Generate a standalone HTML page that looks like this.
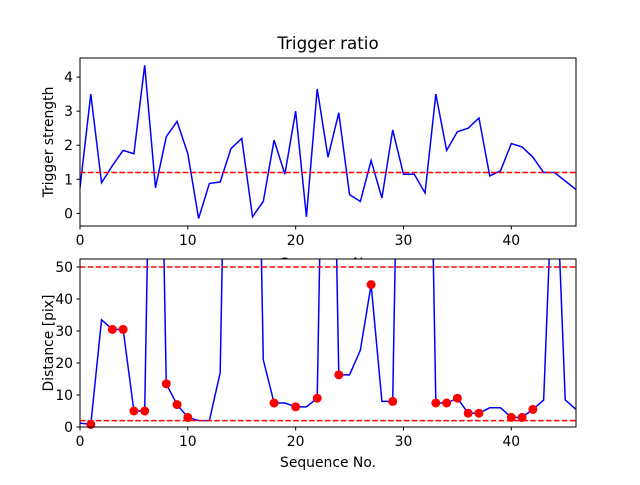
<!DOCTYPE html>
<html><head><meta charset="utf-8"><style>
body{margin:0;background:#fff}
svg{font-family:"DejaVu Sans","Liberation Sans",sans-serif}
</style></head><body>
<svg id="c" width="640" height="480" viewBox="0 0 640 480">
<rect width="640" height="480" fill="#fff"/>
</svg>
<script>
const seq = [...Array(47).keys()];
const triggerStrength = [0.75,3.5,0.9,1.4,1.85,1.75,4.35,0.75,2.25,2.7,1.75,-0.15,0.88,0.92,1.9,2.2,-0.1,0.35,2.15,1.15,3.0,-0.1,3.65,1.65,2.95,0.55,0.35,1.55,0.45,2.45,1.15,1.15,0.6,3.5,1.85,2.4,2.5,2.8,1.1,1.25,2.05,1.95,1.65,1.2,1.2,0.95,0.7];
const triggerThreshold = 1.2;
const distance = [1.2,0.8,33.5,30.5,30.5,5,5,200,13.5,7,3,2,2,17,200,200,200,21,7.5,7.5,6.3,6.3,9,200,16.3,16.3,24,44.5,8,8,200,200,200,7.5,7.5,9,4.3,4.3,6,6,3,3,5.5,8.4,95,8.5,5.5];
const markerIdx = [1,3,4,5,6,8,9,10,18,20,22,24,27,29,33,34,35,36,37,40,41,42];
const distThresholds = [50,2];
const topYTicks = [0,1,2,3,4];
const botYTicks = [0,10,20,30,40,50];
const xTicks = [0,10,20,30,40];

const NS="http://www.w3.org/2000/svg", svg=document.getElementById('c');
function el(t,a,p){const e=document.createElementNS(NS,t);for(const k in a)e.setAttribute(k,a[k]);(p||svg).appendChild(e);return e;}
const L=80,R=576,FS=13.9;
const sx=v=>L+(v-0)*(R-L)/46;
function axes(top,bot,ymin,ymax,name){
  const sy=v=>bot-(v-ymin)*(bot-top)/(ymax-ymin);
  const g=el('g',{});
  
  
  const cid='clip-'+name;
  const cp=el('clipPath',{id:cid},g); el('rect',{x:L,y:top,width:R-L,height:bot-top},cp);
  const plot=el('g',{'clip-path':`url(#${cid})`},g);
  return {g,plot,sy,top,bot};
}
function frame(a,yt,ylab){
  const ax=el('g',{},a.g);
  
  
  el('rect',{x:L,y:a.top,width:R-L,height:a.bot-a.top,fill:'none',stroke:'#000','stroke-width':1},ax);
  xTicks.forEach(t=>{const x=sx(t);el('line',{x1:x,x2:x,y1:a.bot,y2:a.bot+3.5,stroke:'#000'},ax);
    const tx=el('text',{x:x,y:a.bot+19,'text-anchor':'middle','font-size':FS},ax);tx.textContent=t;
    });
  yt.forEach(t=>{const y=a.sy(t);el('line',{x1:L-3.5,x2:L,y1:y,y2:y,stroke:'#000'},ax);
    const tx=el('text',{x:L-7,y:y+5,'text-anchor':'end','font-size':FS},ax);tx.textContent=t;
    });
  const yl=el('text',{x:0,y:0,'text-anchor':'middle','font-size':FS,transform:`translate(${L-27},${(a.top+a.bot)/2}) rotate(-90)`},ax);
  yl.textContent=ylab;
}
// top
const A=axes(58,226,-0.37,4.56,'trigger-ratio-axes');
const xl1=el('text',{x:328,y:268,'text-anchor':'middle','font-size':FS});xl1.textContent='Sequence No.';

let p=el('polyline',{points:seq.map(i=>sx(i)+','+A.sy(triggerStrength[i])).join(' '),fill:'none',stroke:'#0000ff','stroke-width':1.5},A.plot);

let h=el('line',{x1:L,x2:R,y1:A.sy(triggerThreshold),y2:A.sy(triggerThreshold),stroke:'#ff0000','stroke-width':1.5,'stroke-dasharray':'5.5,2.4'},A.plot);

frame(A,topYTicks,'Trigger strength');
const t=el('text',{x:328,y:49,'text-anchor':'middle','font-size':16.7});t.textContent='Trigger ratio';

// bottom
const B=axes(259,427,0,52.5,'distance-axes');
el('rect',{x:L,y:259,width:R-L,height:168,fill:'#fff'},B.plot);
p=el('polyline',{points:seq.map(i=>sx(i)+','+B.sy(distance[i])).join(' '),fill:'none',stroke:'#0000ff','stroke-width':1.5},B.plot);

distThresholds.forEach(v=>{const l=el('line',{x1:L,x2:R,y1:B.sy(v),y2:B.sy(v),stroke:'#ff0000','stroke-width':1.5,'stroke-dasharray':'5.5,2.4'},B.plot);
  });
markerIdx.forEach(i=>{const c=el('circle',{cx:sx(i),cy:B.sy(distance[i]),r:4.5,fill:'#ff0000'},B.g);
  });
frame(B,botYTicks,'Distance [pix]');
const xl2=el('text',{x:328,y:467,'text-anchor':'middle','font-size':FS});xl2.textContent='Sequence No.';

</script>
</body></html>
